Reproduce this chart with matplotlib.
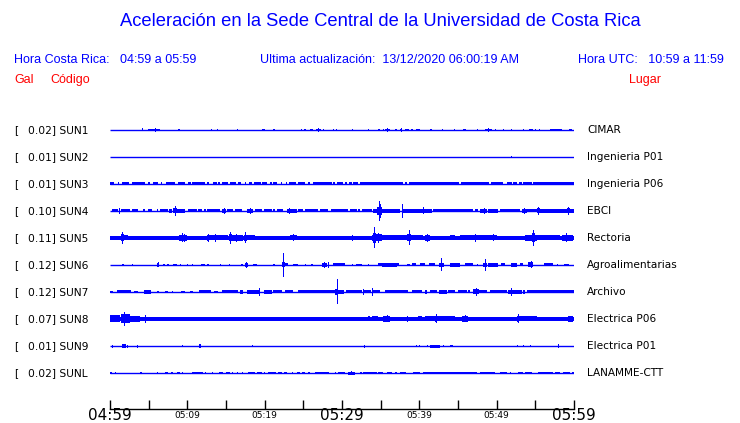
import numpy as np
import matplotlib
matplotlib.use('Agg')
import matplotlib.pyplot as plt

# Header texts
title = 'Aceleración en la Sede Central de la Universidad de Costa Rica'
hora_cr = 'Hora Costa Rica:   04:59 a 05:59'
actualizacion = 'Ultima actualización:  13/12/2020 06:00:19 AM'
hora_utc = 'Hora UTC:   10:59 a 11:59'

# Stations
gal = ['0.02', '0.01', '0.01', '0.10', '0.11', '0.12', '0.12', '0.07', '0.01', '0.02']
codes = ['SUN1', 'SUN2', 'SUN3', 'SUN4', 'SUN5', 'SUN6', 'SUN7', 'SUN8', 'SUN9', 'SUNL']
places = ['CIMAR', 'Ingenieria P01', 'Ingenieria P06', 'EBCI', 'Rectoria',
          'Agroalimentarias', 'Archivo', 'Electrica P06', 'Electrica P01', 'LANAMME-CTT']

# Time axis (minutes after 04:59)
tick_minutes = list(range(0, 61, 5))
tick_labels = ['04:59', '', '05:09', '', '05:19', '', '05:29', '', '05:39', '', '05:49', '', '05:59']
big_labels = ['04:59', '05:29', '05:59']

# Trace envelopes read from the record: (start min, end min, half amplitude)
sun1 = [(4.2, 4.2, 1.5), (4.95, 5.6, 1), (5.6, 6.2, 1.3), (5.85, 5.9, 2.3), (6.2, 6.45, 1.2),
        (8.8, 9.0, 1), (13.1, 13.1, 0.8), (13.9, 13.9, 1.2), (16.4, 16.6, 1), (19.7, 20.1, 1),
        (21.1, 21.4, 0.8), (24.7, 24.7, 1), (25.1, 25.4, 1), (25.9, 26.3, 1), (26.6, 27.3, 1.2),
        (26.95, 27.0, 2), (27.6, 27.6, 1), (28.8, 28.8, 1), (29.2, 29.2, 1), (31.3, 31.3, 0.8),
        (33.4, 33.4, 0.8), (34.6, 34.9, 1), (35.3, 35.3, 1), (35.6, 36.2, 1.2), (35.85, 35.9, 2.2),
        (36.9, 37.1, 1), (37.5, 37.8, 1.2), (37.6, 37.65, 2), (38.1, 38.6, 1), (38.9, 38.9, 1),
        (39.1, 39.1, 1), (39.6, 40.1, 0.8), (41.4, 41.7, 1), (42.9, 42.9, 0.8), (44.5, 44.5, 1),
        (45.7, 46.0, 1), (47.5, 47.5, 1), (48.5, 49.4, 1.2), (48.9, 48.95, 2.2), (49.8, 49.8, 1),
        (50.8, 50.8, 1), (51.9, 51.9, 0.8), (53.4, 53.4, 1), (54.2, 54.7, 1), (55.0, 55.0, 1),
        (55.5, 55.5, 1), (56.9, 58.5, 1.3), (59.4, 59.8, 1.2)]
sun2 = [(51.8, 51.8, 1.2)]
sun3 = [(0.0, 0.56, 1.5), (1.0, 1.08, 1.5), (1.6, 2.46, 1.5), (2.89, 4.53, 1.5), (4.96, 5.17, 1.5),
        (5.52, 6.25, 1.5), (6.6, 6.6, 1.5), (7.2, 8.4, 1.5), (8.75, 9.7, 1.5), (10.13, 10.47, 1.5),
        (10.65, 12.28, 1.5), (12.5, 12.8, 1.5), (13.3, 13.8, 1.5), (14.0, 14.2, 1.5), (14.5, 15.3, 1.5),
        (15.5, 16.25, 1.5), (16.5, 17.0, 1.5), (17.45, 17.45, 1.5), (18.0, 18.3, 1.5), (18.6, 19.5, 1.5),
        (19.7, 20.25, 1.5), (20.65, 20.9, 1.5), (21.1, 21.55, 1.5), (22.1, 22.3, 1.5), (22.7, 22.9, 1.5),
        (23.15, 24.0, 1.5), (24.3, 25.2, 1.5), (25.65, 25.86, 1.5), (26.3, 28.65, 1.5), (28.9, 29.1, 1.5),
        (29.4, 30.17, 1.5), (30.39, 30.69, 1.5), (30.95, 31.25, 1.5), (31.47, 32.11, 1.5),
        (32.33, 37.93, 1.5), (38.15, 38.36, 1.5), (38.7, 45.17, 1.5), (45.34, 49.05, 1.5),
        (49.27, 50.86, 1.5), (51.4, 51.94, 1.5), (52.15, 52.58, 1.5), (52.89, 53.23, 1.5),
        (53.45, 54.52, 1.5), (54.74, 60.0, 1.5)]
sun4 = [(0.22, 0.99, 1.5), (1.16, 1.34, 3.3), (1.42, 2.59, 1.5), (2.8, 3.66, 1.5), (4.31, 4.53, 1.5),
        (4.87, 5.39, 1.5), (6.03, 6.25, 1.5), (6.46, 7.54, 1.5), (7.63, 7.97, 2.2), (8.19, 8.62, 2.5),
        (8.4, 8.45, 4.7), (8.62, 9.7, 2), (10.13, 11.21, 1.5), (11.42, 11.85, 1.5), (12.15, 12.37, 1.5),
        (12.5, 14.22, 1.5), (14.44, 14.96, 2), (14.7, 14.75, 3.2), (15.09, 15.95, 1.5), (16.16, 17.03, 1.5),
        (17.67, 18.53, 2), (18.1, 18.15, 3.3), (18.75, 19.61, 1.5), (19.96, 20.9, 1.5), (21.12, 21.34, 1.5),
        (21.55, 22.41, 1.5), (22.84, 23.49, 2), (23.1, 23.15, 3.2), (23.49, 24.14, 1.8), (24.35, 25.0, 1.5),
        (25.2, 26.94, 1.5), (27.15, 28.23, 1.5), (28.58, 30.82, 1.5), (31.03, 31.9, 1.5), (32.11, 32.33, 1.5),
        (32.54, 33.83, 1.5), (34.05, 34.48, 2), (34.57, 35.13, 4), (34.75, 34.85, 10), (34.9, 34.95, 7),
        (35.13, 35.77, 2.2), (35.77, 37.5, 1.8), (37.7, 37.75, 6.7), (37.93, 40.08, 1.8), (40.08, 41.6, 2),
        (40.5, 40.55, 3.5), (41.81, 46.98, 1.5), (47.2, 47.63, 1.5), (47.84, 48.7, 2), (48.3, 48.35, 2.8),
        (48.92, 50.21, 1.8), (50.43, 53.02, 1.5), (53.23, 53.88, 2), (53.5, 53.55, 3), (53.88, 55.17, 1.5),
        (55.26, 55.6, 2.5), (55.4, 55.45, 4), (55.6, 59.05, 1.6), (59.05, 59.48, 2.5), (59.25, 59.3, 4),
        (59.48, 60.0, 1.6)]
sun5 = [(0.0, 60.0, 1.8), (1.42, 1.77, 3.5), (1.55, 1.6, 6.3), (1.77, 2.37, 2.5), (2.37, 4.31, 2),
        (6.46, 8.84, 2), (8.92, 9.91, 3), (9.3, 9.35, 4.5), (9.6, 9.65, 4), (12.58, 12.8, 3),
        (12.65, 12.7, 4), (12.8, 14.22, 2.5), (13.6, 13.65, 3.7), (14.22, 15.3, 2.5), (15.39, 15.73, 3.5),
        (15.55, 15.6, 6.2), (15.73, 17.24, 2.8), (16.3, 16.35, 4), (17.37, 17.67, 3), (17.5, 17.55, 5.5),
        (17.67, 18.75, 2.5), (23.27, 24.14, 2.5), (23.6, 23.65, 3.5), (29.74, 33.83, 2), (31.25, 31.4, 3),
        (33.83, 34.05, 3), (34.05, 34.4, 5), (34.1, 34.15, 7), (34.2, 34.25, 10.5), (34.4, 35.13, 3.5),
        (34.6, 34.65, 5), (35.13, 38.36, 2.5), (38.36, 38.88, 3.5), (38.6, 38.65, 7.5), (38.88, 40.52, 2.5),
        (40.73, 41.38, 3), (41.0, 41.05, 4.2), (41.38, 43.96, 2.2), (43.96, 44.61, 2.5), (45.26, 47.84, 2.5),
        (47.2, 47.25, 4), (47.84, 50.0, 2.5), (49.5, 49.55, 3.5), (50.86, 53.45, 2.2), (53.66, 55.17, 3),
        (54.52, 54.96, 4.5), (54.7, 54.75, 8), (55.17, 58.19, 2.5), (58.4, 59.9, 3.2), (59.0, 59.05, 4.5)]
sun6 = [(1.6, 1.77, 1), (2.89, 3.02, 1), (6.03, 6.34, 2), (6.15, 6.2, 2.5), (6.9, 7.1, 1),
        (7.33, 7.63, 1), (8.19, 8.62, 1), (9.05, 9.05, 1), (10.0, 10.0, 1), (10.65, 10.78, 1),
        (11.77, 12.28, 1), (12.58, 12.84, 1), (14.22, 14.22, 1), (15.39, 15.39, 1), (16.94, 17.16, 1),
        (17.46, 17.89, 2), (17.65, 17.7, 3), (18.45, 18.97, 1.2), (21.12, 21.34, 1), (22.28, 22.63, 2.5),
        (22.4, 22.45, 12), (22.63, 23.0, 1.5), (23.7, 24.35, 1.2), (25.2, 25.2, 1), (25.95, 26.3, 1.2),
        (27.37, 28.0, 1.8), (27.7, 27.75, 2.8), (28.23, 28.23, 3), (28.9, 30.39, 1.5), (31.25, 31.47, 1),
        (31.81, 32.54, 1.2), (33.4, 33.4, 1), (34.7, 35.13, 1.5), (35.13, 37.07, 2), (37.07, 37.41, 1.5),
        (38.36, 38.79, 1.2), (39.0, 39.57, 1.5), (40.08, 40.73, 1.5), (41.29, 42.03, 1.5), (42.58, 43.19, 2.2),
        (42.85, 42.95, 6.5), (43.96, 45.26, 2), (45.9, 46.98, 1.5), (47.41, 47.63, 1.2), (48.19, 48.79, 2.2),
        (48.45, 48.55, 6), (48.92, 50.21, 1.8), (50.52, 51.08, 1.5), (51.81, 52.58, 2), (53.02, 53.45, 1.5),
        (54.09, 54.74, 2.5), (54.4, 54.45, 3.5), (56.12, 57.33, 1.5), (57.76, 57.76, 1), (58.71, 59.4, 1.2)]
sun7 = [(0.0, 0.43, 1), (0.86, 2.72, 1.5), (3.15, 3.58, 1.2), (4.44, 5.3, 2), (6.03, 6.38, 1.2),
        (7.11, 7.46, 1.2), (8.06, 8.06, 1), (9.18, 9.7, 1.2), (10.34, 10.78, 1.2), (11.5, 13.06, 1.5),
        (13.49, 14.0, 1.2), (14.44, 16.6, 1.5), (16.81, 17.24, 2), (17.67, 19.4, 1.8), (19.3, 19.4, 4),
        (19.96, 20.9, 2), (21.12, 22.2, 1.5), (22.63, 23.7, 1.5), (24.35, 29.1, 1.5), (29.1, 29.5, 3),
        (29.3, 29.4, 12.5), (29.5, 30.26, 2), (30.5, 32.54, 1.5), (32.67, 32.67, 3), (32.76, 33.7, 1.5),
        (33.83, 34.05, 3), (33.9, 33.95, 4), (34.05, 34.91, 1.5), (35.56, 38.58, 1.5), (39.0, 40.3, 1.5),
        (40.73, 41.03, 2), (41.38, 42.24, 1.5), (42.58, 43.53, 2), (43.75, 44.61, 1.5), (45.04, 46.12, 1.5),
        (46.34, 46.55, 1.5), (47.0, 47.76, 2.5), (47.3, 47.4, 4.3), (47.76, 48.7, 1.5), (49.14, 51.29, 1.5),
        (51.51, 52.15, 2.2), (51.8, 51.9, 4), (52.15, 53.23, 1.8), (53.36, 53.66, 2.2), (53.88, 59.48, 1.5),
        (59.48, 60.0, 1.5)]
sun8 = [(0.0, 60.0, 1.7), (0.0, 1.29, 3.5), (1.42, 2.59, 4.5), (1.85, 2.0, 7), (2.59, 3.88, 2.8),
        (3.88, 6.25, 2.3), (4.5, 4.6, 4), (6.25, 12.28, 2.2), (33.4, 33.62, 2.5), (33.83, 34.7, 2.5),
        (35.34, 36.2, 2.8), (35.8, 35.85, 3.5), (38.36, 38.36, 3), (39.87, 40.3, 2.5), (40.73, 42.24, 2.5),
        (42.0, 42.33, 3), (42.15, 42.2, 4.5), (42.33, 44.61, 2.5), (45.47, 46.34, 2.8), (45.9, 45.95, 3.5),
        (46.34, 47.0, 2.2), (47.84, 50.0, 2.3), (50.86, 52.58, 2.3), (52.58, 52.93, 3), (52.75, 52.8, 4.5),
        (52.93, 55.17, 2.5), (55.6, 57.76, 2.2), (59.27, 59.9, 2.8)]
sun9 = [(0.3, 0.3, 1.5), (1.6, 2.03, 2), (2.2, 2.2, 1.5), (3.53, 3.53, 1.5), (9.35, 9.35, 1),
        (11.5, 11.77, 2), (18.4, 18.4, 1), (32.89, 32.89, 1.5), (39.57, 39.57, 1), (39.9, 39.9, 1),
        (40.95, 40.95, 1.2), (41.38, 42.67, 1.5), (43.1, 43.1, 1), (43.96, 44.4, 1.2), (52.67, 52.67, 1),
        (53.45, 53.45, 1), (54.31, 54.31, 1), (57.97, 57.97, 2)]
sunl = [(0.0, 0.3, 1.2), (0.65, 0.65, 1), (3.88, 4.1, 1.2), (6.12, 6.12, 1.2), (7.11, 7.54, 1.3),
        (7.84, 8.1, 1.2), (8.62, 9.05, 1.3), (9.35, 9.35, 1.2), (10.56, 12.07, 1.3), (12.28, 12.28, 1.2),
        (13.15, 13.15, 1), (14.1, 14.66, 1.3), (14.96, 15.52, 1.3), (15.73, 15.73, 1.2), (16.38, 16.38, 1),
        (17.03, 17.03, 1), (17.89, 18.75, 1.3), (18.97, 19.61, 1.3), (19.96, 19.96, 1.2), (20.47, 21.42, 1.3),
        (21.77, 22.2, 1.3), (22.5, 22.93, 1.3), (23.49, 23.49, 1.2), (24.14, 24.57, 1.3), (24.78, 25.2, 1.3),
        (25.56, 25.9, 1.3), (26.5, 28.3, 1.3), (29.1, 29.1, 1.2), (29.5, 30.39, 1.3), (30.82, 31.68, 1.5),
        (31.1, 31.2, 2.2), (32.33, 32.54, 1.2), (32.76, 34.48, 1.3), (34.7, 35.34, 1.3), (35.77, 36.42, 1.3),
        (36.85, 37.07, 1.2), (37.5, 38.27, 1.3), (39.14, 40.08, 1.3), (40.43, 47.41, 1.3), (47.84, 49.78, 1.3),
        (50.43, 51.29, 1.3), (51.72, 51.72, 1.2), (52.8, 53.45, 1.3), (53.66, 54.52, 1.3), (55.39, 57.33, 1.3),
        (57.54, 58.19, 1.3), (58.62, 59.48, 1.3), (59.7, 60.0, 1.3)]

traces = [sun1, sun2, sun3, sun4, sun5, sun6, sun7, sun8, sun9, sunl]

BLUE = '#0000ff'
RED = '#ff0000'
W, H = 740, 423


def fx(x):
    return x / W


def fy(y):
    return 1 - y / H


fig = plt.figure(figsize=(W / 100, H / 100), dpi=100)
fig.patch.set_facecolor('white')

head_font = 'Liberation Sans'
fig.text(fx(380), fy(22), title, ha='center', va='center', color=BLUE,
         fontsize=13.25, family=head_font)
fig.text(fx(14), fy(60), hora_cr, ha='left', va='center', color=BLUE, fontsize=9, family=head_font)
fig.text(fx(260), fy(60), actualizacion, ha='left', va='center', color=BLUE, fontsize=9, family=head_font)
fig.text(fx(724), fy(60), hora_utc, ha='right', va='center', color=BLUE, fontsize=9, family=head_font)
fig.text(fx(14), fy(80), 'Gal', ha='left', va='center', color=RED, fontsize=9, family=head_font)
fig.text(fx(50), fy(80), 'Código', ha='left', va='center', color=RED, fontsize=9, family=head_font)
fig.text(fx(629), fy(80), 'Lugar', ha='left', va='center', color=RED, fontsize=9, family=head_font)

# axes in pixel-like coordinates: x in minutes, y = image row
ax = fig.add_axes([fx(110), fy(409), fx(574) - fx(110), (409 - 100) / H])
ax.set_xlim(0, 60)
ax.set_ylim(409, 100)
for side in ['top', 'left', 'right']:
    ax.spines[side].set_visible(False)
ax.spines['bottom'].set_linewidth(1.0)
ax.set_yticks([])
ax.set_xticks(tick_minutes)
ax.tick_params(axis='x', direction='in', length=6.5, width=1.0, labelbottom=False)

row_y = [130 + 27 * i for i in range(len(codes))]
for i, (y, segs) in enumerate(zip(row_y, traces)):
    ax.hlines(y, 0, 60, color=BLUE, lw=1.0)
    for t0, t1, a in segs:
        ax.bar(t0, 2 * a, width=max(t1 - t0, 0.13), bottom=y - a, align='edge',
               color=BLUE, linewidth=0)
    fig.text(fx(14), fy(y), '[', ha='left', va='center', fontsize=7.7)
    fig.text(fx(28), fy(y), f'{gal[i]}] {codes[i]}', ha='left', va='center', fontsize=7.7)
    fig.text(fx(587), fy(y), places[i], ha='left', va='center', fontsize=7.6)

for t, lab in zip(tick_minutes, tick_labels):
    if not lab:
        continue
    size = 11 if lab in big_labels else 6.5
    ax.text(t, 415.5, lab, ha='center', va='center', fontsize=size, clip_on=False)

fig.savefig('out.png', dpi=100, facecolor='white')
